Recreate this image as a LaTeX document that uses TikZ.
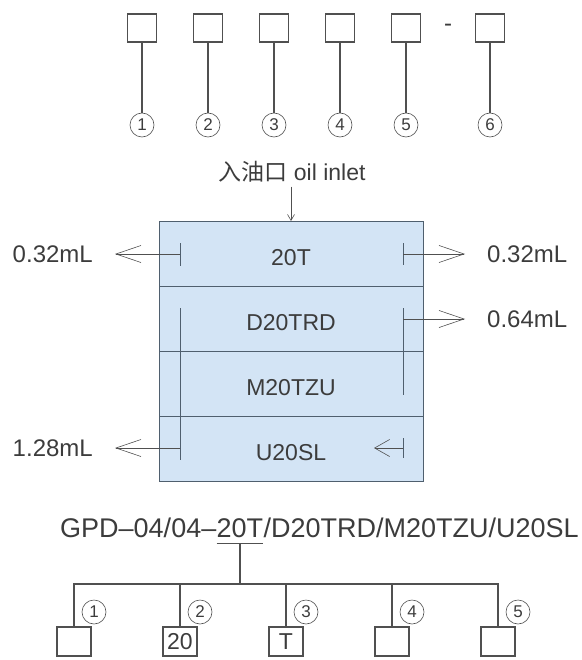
\documentclass[tikz,border=0pt]{standalone}
\usepackage{fontspec}
\setmainfont{Liberation Sans}
\newfontfamily\cjk{Noto Sans CJK SC}
\usetikzlibrary{arrows.meta,positioning}
\definecolor{txt}{HTML}{3C3C3C}
\definecolor{ln}{HTML}{505050}
\definecolor{tank}{HTML}{D3E4F5}
\definecolor{tankedge}{HTML}{4F5F6E}

\begin{document}
\begin{tikzpicture}[x=1pt, y=-1pt, node distance=66pt,
    sq/.style = {draw=ln, line width=1.2pt, minimum width=29pt, minimum height=28pt, inner sep=0pt},
    pick/.style = {draw=ln, line width=1.1pt, minimum width=34pt, minimum height=29pt, inner sep=0pt, text=txt, font=\fontsize{23}{26}\selectfont},
    num/.style = {draw=ln, circle, line width=0.6pt, minimum size=24pt, inner sep=0pt, text=txt, font=\fontsize{17}{17}\selectfont},
    lbl/.style = {text=txt, inner sep=0pt, font=\fontsize{24}{28}\selectfont},
    row/.style = {draw=tankedge, fill=tank, line width=0.9pt, minimum width=264pt, minimum height=65pt, outer sep=0pt,
                  text height=24pt, text depth=0pt, text=txt, font=\fontsize{23}{28}\selectfont},
    pipe/.style = {draw=tankedge, line width=0.9pt},
    flow/.style = {draw=ln, line width=0.6pt, -{Straight Barb[length=25pt, width=17pt]}},
    flowsmall/.style = {draw=ln, line width=0.6pt, -{Straight Barb[length=15pt, width=17pt]}}]

    \useasboundingbox (0,0) rectangle (581,660);

    \node[sq] (B1) at (142,28) {};
    \node[sq] (B2) [right of=B1] {};
    \node[sq] (B3) [right of=B2] {};
    \node[sq] (B4) [right of=B3] {};
    \node[sq] (B5) [right of=B4] {};
    \node[lbl] (D) at (448,28) {-};
    \node[sq] (B6) [right of=B5, node distance=84pt] {};

    \node[num] (C1) [below of=B1, node distance=97pt] {1};
    \node[num] (C2) [below of=B2, node distance=97pt] {2};
    \node[num] (C3) [below of=B3, node distance=97pt] {3};
    \node[num] (C4) [below of=B4, node distance=97pt] {4};
    \node[num] (C5) [below of=B5, node distance=97pt] {5};
    \node[num] (C6) [below of=B6, node distance=97pt] {6};

    \foreach \i in {1,...,6}
        \draw[ln, line width=1.2pt] (B\i) -- (C\i);

    \node[lbl, font=\fontsize{23}{26}\selectfont] (IN) at (292,172) {{\cjk 入油口} oil inlet};

    \node[row] (R1) at (291,253.5) {20T};
    \node[row] (R2) [below=0pt of R1] {D20TRD};
    \node[row] (R3) [below=0pt of R2] {M20TZU};
    \node[row] (R4) [below=0pt of R3] {U20SL};

    \draw[ln, line width=0.6pt, -{Straight Barb[length=6pt, width=7pt]}, shorten <=4pt] (IN.south -| R1) -- (R1);

    \node[lbl, anchor=east] (L1) at (93,254) {0.32mL};
    \node[lbl, anchor=west] (L2) at (487,254) {0.32mL};
    \node[lbl, anchor=west] (L3) at (487,319) {0.64mL};
    \node[lbl, anchor=east] (L4) at (93,448) {1.28mL};

    \coordinate (A1) at (180,254);
    \coordinate (A2) at (403,254);
    \coordinate (A3) at (403,319);
    \coordinate (A4) at (180,448);
    \coordinate (A5) at (403,448);
    \coordinate (A5e) at (374,448);

    \draw[pipe] (180,243) -- (180,266);
    \draw[pipe] (403,243) -- (403,265);
    \draw[pipe] (180,308) -- (180,460);
    \draw[pipe] (403,308) -- (403,395);
    \draw[pipe] (403,438) -- (403,458);

    \draw[flow, shorten >=22pt] (A1) -- (L1);
    \draw[flow, shorten >=22pt] (A2) -- (L2);
    \draw[flow, shorten >=22pt] (A3) -- (L3);
    \draw[flow, shorten >=22pt] (A4) -- (L4);
    \draw[flowsmall] (A5) -- (A5e);

    \node[lbl, font=\fontsize{27}{32}\selectfont, anchor=base west] (G1) at (60,537) {GPD–04/04–};
    \node[lbl, font=\fontsize{27}{32}\selectfont, anchor=base west, inner ysep=6pt] (G2) at (G1.base east) {20T};
    \node[lbl, font=\fontsize{27}{32}\selectfont, anchor=base west] (G3) at (G2.base east) {/D20TRD/M20TZU/U20SL};
    \draw[ln, line width=1.1pt] (G2.south west) -- (G2.south east);

    \node[pick] (Q1) at (74,641.5) {};
    \node[pick, node distance=106pt] (Q2) [right of=Q1] {20};
    \node[pick, node distance=106pt] (Q3) [right of=Q2] {T};
    \node[pick, node distance=106pt] (Q4) [right of=Q3] {};
    \node[pick, node distance=106pt] (Q5) [right of=Q4] {};

    \node[num] (N1) at (94,612) {1};
    \node[num, node distance=106pt] (N2) [right of=N1] {2};
    \node[num, node distance=106pt] (N3) [right of=N2] {3};
    \node[num, node distance=106pt] (N4) [right of=N3] {4};
    \node[num, node distance=106pt] (N5) [right of=N4] {5};

    \coordinate (J) at (G2.south |- 0,584);
    \draw[ln, line width=1.1pt] (G2.south) -- (J);
    \draw[ln, line width=1.1pt] (Q1.north) -- (Q1.north |- J) -- (Q5.north |- J) -- (Q5.north);
    \foreach \i in {2,3,4}
        \draw[ln, line width=1.1pt] (Q\i.north) -- (Q\i.north |- J);
\end{tikzpicture}
\end{document}
